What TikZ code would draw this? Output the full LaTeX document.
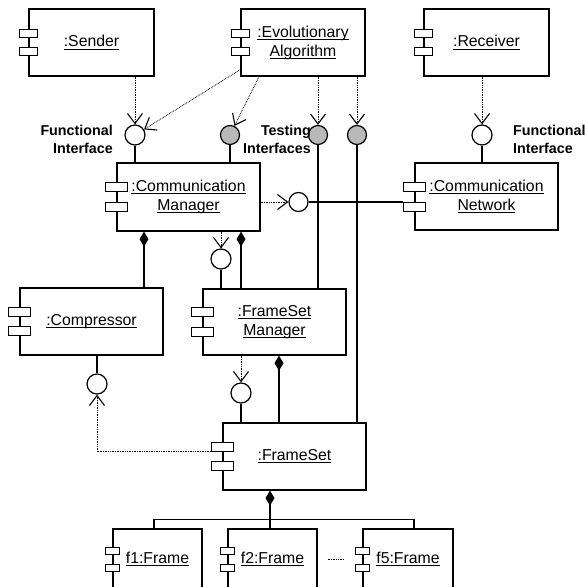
\documentclass[tikz,border=0pt]{standalone}
\usepackage{fontspec}
\setmainfont{Liberation Sans}
\usetikzlibrary{arrows.meta,calc}
\definecolor{ifgray}{RGB}{185,185,185}
\newcommand\boxfont{\fontsize{15.8}{19}\selectfont}
\newcommand\lblfont{\bfseries\fontsize{14.3}{18}\selectfont}
\newcommand\uln[1]{\setbox0\hbox{#1}\rlap{\vrule width\wd0 height -1.7pt depth 2.7pt}\box0}
\newcommand\comptabs[4]{%
  \node[tabbox,minimum width=#2,minimum height=#3] (#1-t1) at ([yshift=#4]#1.west) {};
  \node[tabbox,minimum width=#2,minimum height=#3] (#1-t2) at ([yshift=-#4]#1.west) {};}
\begin{document}
\begin{tikzpicture}[x=1pt,y=-1pt,
  box/.style={draw,line width=1.2pt,inner sep=0pt,align=center,font=\boxfont},
  tabbox/.style={draw,fill=white,line width=0.9pt,inner sep=0pt},
  iface/.style={circle,draw,fill=white,line width=1.2pt,minimum size=20pt,inner sep=0pt},
  giface/.style={iface,fill=ifgray,minimum size=19pt},
  link/.style={line width=1.3pt},
  dep/.style={line width=0.8pt,dash pattern=on 0.8pt off 0.9pt,-{Straight Barb[length=10pt,width=15pt,line width=1.1pt]}},
  dottedline/.style={line width=0.8pt,dash pattern=on 0.8pt off 0.9pt},
  compos/.style={line width=1.3pt,{Diamond[length=15pt,width=9pt,line width=0pt]}-},
  lbl/.style={font=\lblfont,inner sep=0pt}
]
\useasboundingbox (0,0) rectangle (585,587);
% boxes
\node[box,minimum width=125pt,minimum height=67pt] (sender) at (91.5,42.5) {\uln{:Sender}};
\node[box,minimum width=124pt,minimum height=67pt] (ea) at (303,42.5) {\uln{:Evolutionary}\\\uln{Algorithm}};
\node[box,minimum width=125pt,minimum height=67pt] (recv) at (486.5,42.5) {\uln{:Receiver}};
\node[box,minimum width=143pt,minimum height=68pt] (cm) at (188.5,197) {\uln{:Communication}\\\uln{Manager}};
\node[box,minimum width=143pt,minimum height=67pt] (cn) at (486.5,196.5) {\uln{:Communication}\\\uln{Network}};
\node[box,minimum width=143pt,minimum height=67pt] (comp) at (91.5,321.5) {\uln{:Compressor}};
\node[box,minimum width=143pt,minimum height=66pt] (fsm) at (274.5,322) {\uln{:FrameSet}\\\uln{Manager}};
\node[box,minimum width=143pt,minimum height=67pt] (fs) at (294.5,456.5) {\uln{:FrameSet}};
\node[box,minimum width=89pt,minimum height=60pt] (f1) at (157.5,559) {\uln{f1:Frame}};
\node[box,minimum width=89pt,minimum height=60pt] (f2) at (272.5,559) {\uln{f2:Frame}};
\node[box,minimum width=90pt,minimum height=60pt] (f5) at (408,559) {\uln{f5:Frame}};
% component tabs
\comptabs{sender}{18pt}{8pt}{9.25pt}
\comptabs{ea}{18pt}{8pt}{9.25pt}
\comptabs{recv}{18pt}{8pt}{9.25pt}
\comptabs{cm}{22pt}{9pt}{10pt}
\comptabs{cn}{22pt}{9pt}{10pt}
\comptabs{comp}{22pt}{9pt}{9.75pt}
\comptabs{fsm}{22pt}{9pt}{9.75pt}
\comptabs{fs}{22pt}{9pt}{9.75pt}
\comptabs{f1}{14pt}{7pt}{8.5pt}
\comptabs{f2}{14pt}{7pt}{8.5pt}
\comptabs{f5}{14pt}{7pt}{8.5pt}
% interfaces
\node[iface] (iS) at (135,135) {};
\node[giface] (gCM) at (230,135) {};
\node[giface] (gFSM) at (318,135) {};
\node[giface] (gFS) at (357,135) {};
\node[iface] (iR) at (482,135) {};
\node[iface,minimum size=19pt] (iCN) at (298.5,202) {};
\node[iface] (iFSM) at (221,259) {};
\node[iface] (iFS) at (241,393) {};
\node[iface] (iComp) at (97,384) {};
% labels
\node[lbl,anchor=east,align=right] (lf) at (113,139) {Functional\\Interface};
\node[lbl,anchor=east,align=right] (lt) at (311,139) {Testing\\Interfaces};
\node[lbl,anchor=west,align=left] (lr) at (513,139) {Functional\\Interface};
% helper coordinates
\coordinate (eaA) at ([yshift=7pt]ea.south west);
\coordinate (eaB) at ([xshift=-44pt]ea.south);
\coordinate (d1) at ([xshift=-44.5pt]cm.south);
\coordinate (d2) at ([xshift=52.5pt]cm.south);
\coordinate (d3) at ([xshift=4.5pt]fsm.south);
\coordinate (d4) at ([xshift=-24.5pt]fs.south);
\coordinate (bar) at ([yshift=9pt]f2.north);
\coordinate (f1x) at ([xshift=-3.5pt]f1.north);
\coordinate (f5x) at ([xshift=6pt]f5.north);
% connectors
\draw[dep] (iS |- sender.south) -- (iS);
\draw[link] (iS) -- (iS |- cm.north);
\draw[dep] (eaA) -- (iS);
\draw[dep] (eaB) -- (gCM);
\draw[link] (gCM) -- (gCM |- cm.north);
\draw[dep] (gFSM |- ea.south) -- (gFSM);
\draw[link] (gFSM) -- (gFSM |- fsm.north);
\draw[dep] (gFS |- ea.south) -- (gFS);
\draw[link] (gFS) -- (gFS |- fs.north);
\draw[dep] (iR |- recv.south) -- (iR);
\draw[link] (iR) -- (iR |- cn.north);
\draw[dep] (iCN -| cm.east) -- (iCN);
\draw[link] (iCN) -- (iCN -| cn-t2.west);
\draw[dep] (iFSM |- cm.south) -- (iFSM);
\draw[link] (iFSM) -- (iFSM |- fsm.north);
\draw[compos] (d1) -- (d1 |- comp.north);
\draw[compos] (d2) -- (d2 |- fsm.north);
\draw[dep] (iFS |- fsm.south) -- (iFS);
\draw[link] (iFS) -- (iFS |- fs.north);
\draw[compos] (d3) -- (d3 |- fs.north);
\draw[link] (iComp |- comp.south) -- (iComp);
\draw[dep] (fs-t1.south west) -| (iComp);
\draw[compos] (d4) -- (d4 |- bar);
\draw[link] (f1x) -- (f1x |- bar) -- (f5x |- bar) -- (f5x);
\draw[link] (d4 |- bar) -- (d4 |- f2.north);
\draw[dottedline] ([xshift=10pt]f2.east) -- ([xshift=-18pt]f5.west);
\end{tikzpicture}
\end{document}
